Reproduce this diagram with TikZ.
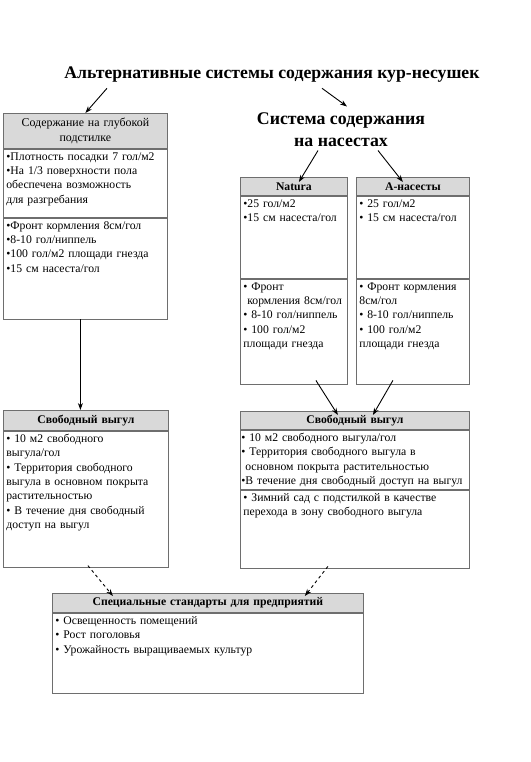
\documentclass[tikz,border=0pt]{standalone}
\usepackage{fontspec}
\setmainfont{Liberation Serif}[BoldFont={Liberation Serif Bold}]
\usetikzlibrary{positioning,arrows.meta}

\definecolor{boxline}{RGB}{110,110,110}
\definecolor{hdrfill}{RGB}{217,217,217}

\tikzset{
  hdr/.style={draw=boxline, fill=hdrfill, line width=0.8pt, align=center,
    inner xsep=3pt, inner ysep=0pt, minimum height=#1,
    font=\fontsize{11.7}{13.5}\selectfont\bfseries},
  sect/.style={draw=boxline, line width=0.8pt, align=left,
    inner xsep=3pt, inner ysep=2pt, text height=9pt, text depth=#1,
    font=\fontsize{11.7}{14.4}\selectfont},
  arr/.style={-{Stealth[length=7pt,width=5pt]}, line width=0.9pt},
  darr/.style={arr, dashed}
}

\begin{document}
\begin{tikzpicture}[x=1pt, y=-1pt]

\useasboundingbox (0,0) rectangle (530,762);

% titles
\node[font=\fontsize{17.7}{20}\selectfont\bfseries] (title) at (272,75)
  {Альтернативные системы содержания кур-несушек};
\node[font=\fontsize{17.8}{22}\selectfont\bfseries, align=center] (perch) at (341,130)
  {Система содержания\\на насестах};

% deep litter
\node[hdr=35pt, text width=158pt, anchor=north west, font=\fontsize{11.9}{14.5}\selectfont] (deephdr) at (3,113)
  {Содержание на глубокой\\подстилке};
\node[sect=55pt, text width=158pt, below=0pt of deephdr] (deep1)
  {•Плотность посадки 7 гол/м2\\•На 1/3 поверхности пола\\обеспечена возможность\\для разгребания};
\node[sect=88pt, text width=158pt, below=0pt of deep1] (deep2)
  {•Фронт кормления 8см/гол\\•8-10 гол/ниппель\\•100 гол/м2 площади гнезда\\•15 см насеста/гол};

% Natura
\node[hdr=18pt, text width=101pt, anchor=north west] (nathdr) at (240,177) {Natura};
\node[sect=69pt, text width=101pt, below=0pt of nathdr] (nat1)
  {•25 гол/м2\\•15 см насеста/гол};
\node[sect=92pt, text width=101pt, below=0pt of nat1] (nat2)
  {• Фронт\\\ кормления 8см/гол\\• 8-10 гол/ниппель\\• 100 гол/м2\\площади гнезда};

% A-perches
\node[hdr=18pt, text width=107pt, anchor=north west] (avhdr) at (356,177) {А-насесты};
\node[sect=69pt, text width=107pt, below=0pt of avhdr] (av1)
  {• 25 гол/м2\\• 15 см насеста/гол};
\node[sect=92pt, text width=107pt, below=0pt of av1] (av2)
  {• Фронт кормления\\8см/гол\\• 8-10 гол/ниппель\\• 100 гол/м2\\площади гнезда};

% free range, left
\node[hdr=20pt, text width=159pt, anchor=north west] (flhdr) at (3,410) {Свободный выгул};
\node[sect=123pt, text width=159pt, below=0pt of flhdr] (fl1)
  {• 10 м2 свободного\\выгула/гол\\• Территория свободного\\выгула в основном покрыта\\растительностью\\• В течение дня свободный\\доступ на выгул};

% free range, right
\node[hdr=18pt, text width=223pt, anchor=north west] (frhdr) at (240,411) {Свободный выгул};
\node[sect=46pt, below=0pt of frhdr, inner xsep=1pt, text width=227pt] (fr1)
  {• 10 м2 свободного выгула/гол\\• Территория свободного выгула в\\\ основном покрыта растительностью\\•В течение дня свободный доступ на выгул};
\node[sect=65pt, text width=223pt, below=0pt of fr1] (fr2)
  {• Зимний сад с подстилкой в качестве\\перехода в зону свободного выгула};

% special standards
\node[hdr=19pt, text width=305pt, anchor=north west] (sphdr) at (52,593) {Специальные стандарты для предприятий};
\node[sect=67pt, text width=305pt, below=0pt of sphdr] (sp1)
  {• Освещенность помещений\\• Рост поголовья\\• Урожайность выращиваемых культур};

% arrows
\draw[arr] ([xshift=-165pt,yshift=-2pt]title.south) -- (deephdr.north);
\draw[arr] ([xshift=50pt,yshift=-2pt]title.south) -- ([xshift=6pt,yshift=3pt]perch.north);
\draw[arr] ([xshift=-23pt]perch.south) -- ([xshift=5pt,yshift=-5pt]nathdr.north);
\draw[arr] ([xshift=37pt]perch.south) -- ([xshift=-10pt,yshift=-5pt]avhdr.north);
\draw[arr] ([xshift=-5pt]deep2.south) -- ([xshift=-5pt]deep2.south |- flhdr.north);
\draw[arr] ([xshift=22pt,yshift=4pt]nat2.south) -- ([xshift=-17pt,yshift=-4pt]frhdr.north);
\draw[arr] ([xshift=-20pt,yshift=4pt]av2.south) -- ([xshift=18pt,yshift=-4pt]frhdr.north);
\draw[darr] ([xshift=2pt,yshift=2pt]fl1.south) -- ([xshift=-95pt,yshift=-3pt]sphdr.north);
\draw[darr] ([xshift=-27pt,yshift=2pt]fr2.south) -- ([xshift=97pt,yshift=-3pt]sphdr.north);

\end{tikzpicture}
\end{document}
